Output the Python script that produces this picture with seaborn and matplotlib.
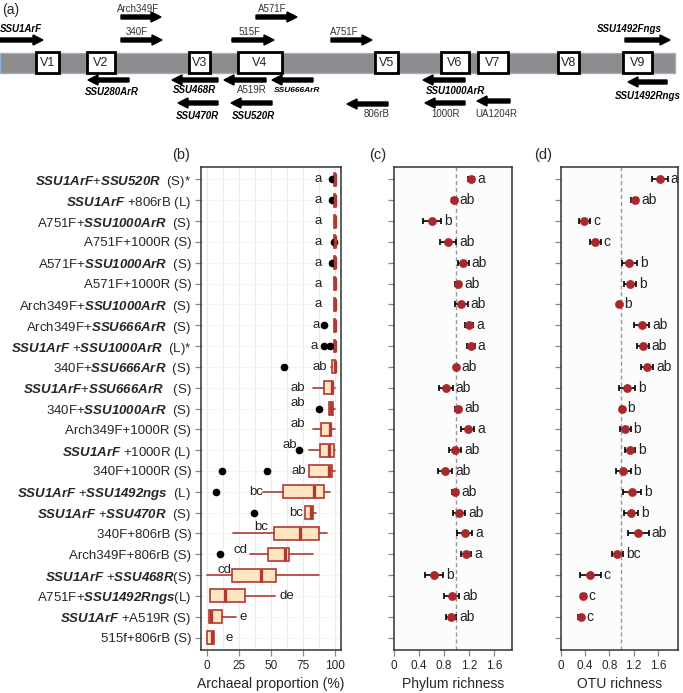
import numpy as np
import pandas as pd
import matplotlib
matplotlib.use("Agg")
import matplotlib.pyplot as plt
import matplotlib.patches as mpatches
import seaborn as sns

sns.set_style("white")
plt.rcParams['font.family'] = ['Liberation Sans', 'DejaVu Sans']
plt.rcParams['mathtext.fontset'] = 'custom'
plt.rcParams['mathtext.rm'] = 'Liberation Sans'
plt.rcParams['mathtext.it'] = 'Liberation Sans:italic'
plt.rcParams['mathtext.bf'] = 'Liberation Sans:bold'
plt.rcParams['mathtext.bfit'] = 'Liberation Sans:italic:bold'


def bi(s):
    return r"$\mathbfit{" + s + "}$"


# ---- data -------------------------------------------------------------
pares = [
    bi("SSU1ArF") + "+" + bi("SSU520R") + "  (S)*",
    bi("SSU1ArF") + " +806rB (L)",
    "A751F+" + bi("SSU1000ArR") + "  (S)",
    "A751F+1000R (S)",
    "A571F+" + bi("SSU1000ArR") + "  (S)",
    "A571F+1000R (S)",
    "Arch349F+" + bi("SSU1000ArR") + "  (S)",
    "Arch349F+" + bi("SSU666ArR") + "  (S)",
    bi("SSU1ArF") + " +" + bi("SSU1000ArR") + "  (L)*",
    "340F+" + bi("SSU666ArR") + "  (S)",
    bi("SSU1ArF") + "+" + bi("SSU666ArR") + "   (S)",
    "340F+" + bi("SSU1000ArR") + "  (S)",
    "Arch349F+1000R (S)",
    bi("SSU1ArF") + " +1000R (L)",
    "340F+1000R (S)",
    bi("SSU1ArF") + " +" + bi("SSU1492ngs") + "  (L)",
    bi("SSU1ArF") + " +" + bi("SSU470R") + "  (S)",
    "340F+806rB (S)",
    "Arch349F+806rB (S)",
    bi("SSU1ArF") + " +" + bi("SSU468R") + "(S)",
    "A751F+" + bi("SSU1492Rngs") + "(L)",
    bi("SSU1ArF") + " +A519R (S)",
    "515f+806rB (S)",
]

# proporcao de arqueias (%) - estatisticas dos boxplots
bx_lo = [99.0, 99.0, 99.0, 99.0, 99.0, 99.0, 99.0, 99.0, 99.0, 97.0, 83.0, 95.3, 82.4, 79.8, 79.3,
         43.7, 76.5, 20.4, 33.9, 0.3, 2.3, 1.8, 0.5]
bx_q1 = [99.3, 99.3, 99.3, 99.3, 99.3, 99.3, 99.3, 99.3, 99.3, 97.8, 91.5, 95.3, 89.0, 88.0, 79.3,
         59.2, 76.5, 52.2, 47.5, 20.0, 2.3, 1.8, 0.5]
bx_med = [100, 100, 100, 100, 100, 100, 100, 100, 100, 99.5, 97.5, 96.6, 96.0, 95.3, 94.8,
          83.7, 81.0, 72.9, 61.2, 42.0, 14.0, 3.1, 4.1]
bx_q3 = [100, 100, 100, 100, 100, 100, 100, 100, 100, 100, 98.5, 98.0, 96.7, 98.7, 97.4,
         91.5, 83.0, 87.0, 63.8, 54.0, 29.5, 11.6, 5.7]
bx_hi = [100, 100, 100, 100, 100, 100, 100, 100, 100, 100, 100, 100, 100, 100, 100,
         96.1, 85.0, 93.6, 83.0, 87.6, 53.0, 23.0, 5.7]
bx_out = [[97.5], [97.4], [], [98.7], [97.7], [], [], [91.5], [91.5, 96.0], [60.5], [], [87.0],
          [], [72.0], [12.1, 46.7], [7.5], [36.7], [], [10.6], [], [], [], []]
letras_b = ['a', 'a', 'a', 'a', 'a', 'a', 'a', 'a', 'a', 'ab', 'ab', 'ab', 'ab', 'ab', 'ab',
            'bc', 'bc', 'bc', 'cd', 'cd', 'de', 'e', 'e']

# riqueza de filos (c) e de OTUs (d): media e erro
filo_media = [1.23, 0.965, 0.61, 0.87, 1.11, 1.03, 1.08, 1.20, 1.23, 1.00, 0.83, 1.02,
              1.18, 0.976, 0.816, 0.976, 1.045, 1.136, 1.152, 0.64, 0.923, 0.912]
filo_erro = [0.05, 0.03, 0.15, 0.13, 0.085, 0.05, 0.10, 0.07, 0.06, 0.03, 0.11, 0.05,
             0.10, 0.10, 0.11, 0.05, 0.10, 0.12, 0.08, 0.15, 0.12, 0.08]
letras_c = ['a', 'ab', 'b', 'ab', 'ab', 'ab', 'ab', 'a', 'a', 'ab', 'ab', 'ab',
            'a', 'ab', 'ab', 'ab', 'ab', 'a', 'a', 'b', 'ab', 'ab']

otu_media = [1.63, 1.22, 0.39, 0.565, 1.13, 1.14, 0.965, 1.33, 1.35, 1.42, 1.095, 1.01,
             1.06, 1.14, 1.03, 1.17, 1.16, 1.28, 0.93, 0.49, 0.37, 0.33]
otu_erro = [0.13, 0.06, 0.09, 0.09, 0.12, 0.10, 0.03, 0.125, 0.10, 0.10, 0.13, 0.03,
            0.09, 0.09, 0.12, 0.15, 0.12, 0.17, 0.09, 0.17, 0.04, 0.04]
letras_d = ['a', 'ab', 'c', 'c', 'b', 'b', 'b', 'ab', 'ab', 'ab', 'b', 'b',
            'b', 'b', 'b', 'b', 'b', 'ab', 'bc', 'c', 'c', 'c']

# esquema (a): regioes variaveis e primers
regioes = ['V1', 'V2', 'V3', 'V4', 'V5', 'V6', 'V7', 'V8', 'V9']
fwd_nomes = ['SSU1ArF', 'Arch349F', '340F', 'A571F', '515F', 'A751F', 'SSU1492Fngs']
fwd_negrito = [True, False, False, False, False, False, True]
rev_nomes = ['SSU280ArR', 'SSU468R', 'A519R', 'SSU666ArR', 'SSU470R', 'SSU520R',
             'SSU1000ArR', '806rB', '1000R', 'UA1204R', 'SSU1492Rngs']
rev_negrito = [True, True, False, True, True, True, True, False, False, False, True]

# ---- layout (pixels) ----------------------------------------------------
reg_x0 = [36, 87, 189, 238, 375, 441, 478, 558, 623]
reg_x1 = [59, 115, 210, 282, 398, 469, 508, 579, 652]
fwd_x0 = [0, 121, 121, 256, 232, 331, 625]
fwd_x1 = [43, 161, 162, 297, 274, 372, 670]
fwd_y = [40, 17, 40, 17, 40, 40, 40]
fwd_lx = [21, 138, 137, 272, 250, 344, 629]
fwd_ly = [29, 9, 32, 9, 32, 32, 29]
rev_x0 = [88, 172, 224, 272, 178, 231, 423, 347, 425, 477, 628]
rev_x1 = [129, 218, 266, 313, 218, 272, 465, 388, 465, 510, 667]
rev_y = [80, 80, 80, 80, 103, 103, 80, 104, 103, 101, 82]
rev_lx = [112, 194, 252, 297, 197, 253, 455, 377, 446, 496, 648]
rev_ly = [92, 90, 90, 90, 116, 116, 91, 114, 114, 114, 96]

letra_b_x = [89.7, 89.7, 89.7, 89.7, 89.7, 89.7, 89.7, 88, 86.7, 93.6, 76.5, 76.5, 76.5, 70,
             77, 43.8, 74.8, 47.7, 32, 19, 56.3, 25.8, 14.3]
letra_b_dy = [0, 0, 0, 0, 0, 0, 0, 0, 0, 0, 0, -0.25, -0.25, -0.25, 0, 0, 0, -0.3, -0.2,
              -0.25, 0, 0, 0]

W, H = 683, 693
VERM = '#B03A32'
PONTO = '#A8282B'
BORDA = '#333333'

fig = plt.figure(figsize=(W / 100, H / 100), dpi=100)


def eixo_px(x0, x1, y0, y1):
    return fig.add_axes([x0 / W, 1 - y1 / H, (x1 - x0) / W, (y1 - y0) / H])


# ---- (a) ----------------------------------------------------------------
ax_a = eixo_px(0, W, 0, 130)
ax_a.set_xlim(0, W)
ax_a.set_ylim(130, 0)
ax_a.axis('off')
ax_a.add_patch(mpatches.Rectangle((0, 53), 675, 20, facecolor='#8c8c8c',
                                  edgecolor='#8fb3d9', lw=1))
for nome, x0, x1 in zip(regioes, reg_x0, reg_x1):
    ax_a.add_patch(mpatches.Rectangle((x0, 52), x1 - x0, 21, facecolor='white',
                                      edgecolor='black', lw=2, zorder=3))
    ax_a.text((x0 + x1) / 2, 63, nome, ha='center', va='center', fontsize=9, zorder=4)

for nome, neg, x0, x1, y, lx, ly in zip(fwd_nomes, fwd_negrito, fwd_x0, fwd_x1, fwd_y, fwd_lx, fwd_ly):
    ax_a.add_patch(mpatches.FancyArrow(x0, y, x1 - x0, 0, width=4, head_width=10, head_length=10,
                                       length_includes_head=True, color='black'))
    ax_a.text(lx, ly, nome, ha='center', va='center', fontsize=7,
              fontweight='bold' if neg else 'normal', fontstyle='italic' if neg else 'normal',
              color='black' if neg else '#333333')

for nome, neg, x0, x1, y, lx, ly in zip(rev_nomes, rev_negrito, rev_x0, rev_x1, rev_y, rev_lx, rev_ly):
    ax_a.add_patch(mpatches.FancyArrow(x1, y, x0 - x1, 0, width=4, head_width=10, head_length=10,
                                       length_includes_head=True, color='black'))
    ax_a.text(lx, ly, nome, ha='center', va='center', fontsize=6 if nome == 'SSU666ArR' else 7,
              fontweight='bold' if neg else 'normal', fontstyle='italic' if neg else 'normal',
              color='black' if neg else '#333333')

fig.text(2 / W, 1 - 10 / H, '(a)', ha='left', va='center', fontsize=10)

# ---- (b) ----------------------------------------------------------------
n = len(pares)
linhas = np.arange(n)
ax_b = eixo_px(201, 341, 167, 650)
stats = []
for i in range(n):
    stats.append(dict(whislo=bx_lo[i], q1=bx_q1[i], med=bx_med[i], q3=bx_q3[i],
                      whishi=bx_hi[i], fliers=bx_out[i], label=''))
ax_b.bxp(stats, positions=linhas, vert=False, widths=0.62, patch_artist=True, showcaps=False,
         boxprops=dict(facecolor='#FFE5C2', edgecolor=VERM, lw=1.2),
         medianprops=dict(color=VERM, lw=2.4),
         whiskerprops=dict(color=VERM, lw=1.2),
         flierprops=dict(marker='o', markerfacecolor='black', markeredgecolor='black',
                         markersize=4.5))
for i in range(n):
    ha = 'left' if i >= 20 else 'right'
    ax_b.text(letra_b_x[i], i + letra_b_dy[i], letras_b[i], ha=ha, va='center', fontsize=9.5,
              color='#222222')
ax_b.set_xlim(-4.5, 104.5)
ax_b.set_ylim(n - 0.4, -0.6)
ax_b.set_xticks([0, 25, 50, 75, 100])
ax_b.set_xticks([12.5, 37.5, 62.5, 87.5], minor=True)
ax_b.set_yticks(linhas)
ax_b.set_yticklabels(pares, fontsize=9.5)
ax_b.grid(True, which='both', axis='x', color='#ebebeb', lw=0.8)
ax_b.grid(True, which='major', axis='y', color='#f3f3f3', lw=0.8)
ax_b.set_axisbelow(True)
ax_b.set_xlabel('Archaeal proportion (%)', fontsize=10, labelpad=4)
fig.text(181 / W, 1 - 155 / H, '(b)', ha='center', va='center', fontsize=10.5)

# ---- (c) e (d) ----------------------------------------------------------
def painel_riqueza(ax, media, erro, letras, xmax, rotulo):
    m = len(media)
    df = pd.DataFrame({'media': media, 'erro': erro, 'linha': np.arange(m)})
    ax.axvline(1.0, color='#9a9a9a', ls=(0, (3, 2)), lw=1, zorder=1)
    ax.errorbar(df['media'], df['linha'], xerr=df['erro'], fmt='none', ecolor='black',
                elinewidth=1.2, capsize=2.2, capthick=1.2, zorder=2)
    sns.scatterplot(data=df, x='media', y='linha', ax=ax, color=PONTO, edgecolor=PONTO,
                    s=34, zorder=3, legend=False)
    for i in range(m):
        ax.text(df['media'][i] + df['erro'][i] + 0.05, i, letras[i], ha='left', va='center',
                fontsize=10, color='#222222')
    ax.set_xlim(0, xmax)
    ax.set_ylim(n - 0.4, -0.6)
    ax.set_yticks(linhas)
    ax.set_yticklabels([])
    ax.set_xticks([0, 0.4, 0.8, 1.2, 1.6])
    ax.set_xticklabels(['0', '0.4', '0.8', '1.2', '1.6'])
    ax.set_xlabel(rotulo, fontsize=10, labelpad=4)
    ax.set_ylabel('')
    ax.set_facecolor('#fcfcfc')


ax_c = eixo_px(394, 512, 167, 650)
painel_riqueza(ax_c, filo_media, filo_erro, letras_c, 1.89, 'Phylum richness')
ax_d = eixo_px(560.7, 678, 167, 650)
painel_riqueza(ax_d, otu_media, otu_erro, letras_d, 1.93, 'OTU richness')
fig.text(378 / W, 1 - 155 / H, '(c)', ha='center', va='center', fontsize=10.5)
fig.text(543 / W, 1 - 155 / H, '(d)', ha='center', va='center', fontsize=10.5)

for ax in (ax_b, ax_c, ax_d):
    for sp in ax.spines.values():
        sp.set_color(BORDA)
        sp.set_linewidth(1.1)
    ax.tick_params(axis='both', which='major', bottom=True, left=True, length=4,
                   color='#888888', width=0.9, pad=3)
    ax.tick_params(axis='x', labelsize=8.5)
    ax.tick_params(which='minor', length=0)

fig.savefig('out.png', dpi=100)
